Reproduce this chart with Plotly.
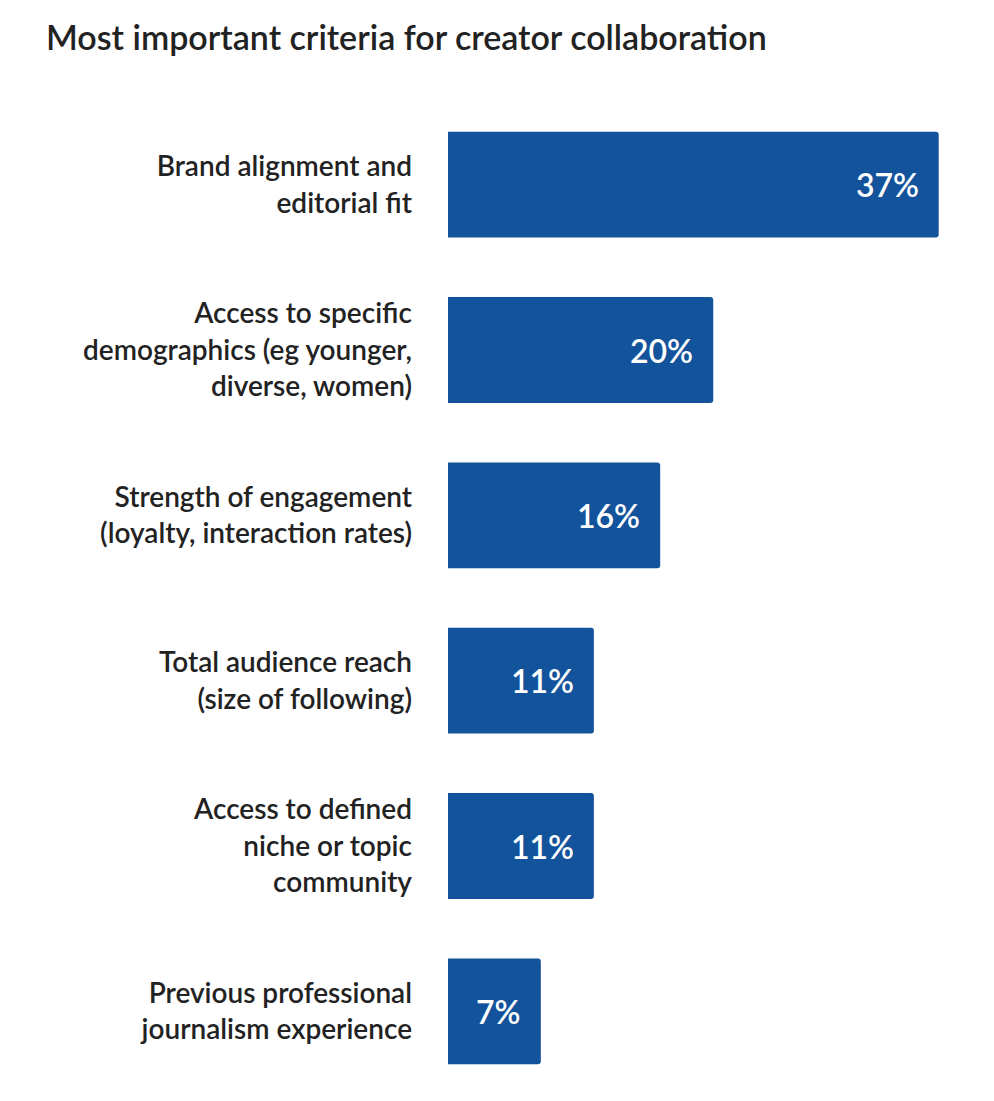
import plotly.graph_objects as go

categories = [
    "Brand alignment and<br>editorial fit",
    "Access to specific<br>demographics (eg younger,<br>diverse, women)",
    "Strength of engagement<br>(loyalty, interaction rates)",
    "Total audience reach<br>(size of following)",
    "Access to defined<br>niche or topic<br>community",
    "Previous professional<br>journalism experience",
]
values = [37, 20, 16, 11, 11, 7]
labels = ["37%", "20%", "16%", "11%", "11%", "7%"]

BAR = "#13539b"
FONT = "Lato, 'Open Sans', sans-serif"

fig = go.Figure()
fig.add_trace(go.Bar(
    x=values,
    y=categories,
    orientation="h",
    marker=dict(color=BAR, line=dict(width=0)),
    hoverinfo="skip",
))

# value labels near the bar end
for v, c, t in zip(values, categories, labels):
    fig.add_annotation(x=v, y=c, text=t, showarrow=False,
                       xanchor="right", xshift=-18,
                       font=dict(family=FONT, size=32, weight=600, color="white"))

# page body adds an 8px offset, so margins are trimmed to match
fig.update_layout(
    width=986, height=1093,
    margin=dict(l=440, r=50, t=94, b=7),
    paper_bgcolor="white", plot_bgcolor="white",
    bargap=0.36,
    barcornerradius=3,
    showlegend=False,
    title=dict(text="Most important criteria for creator collaboration",
               x=38 / 986, xref="container", xanchor="left",
               y=1 - 30 / 1093, yref="container", yanchor="middle",
               font=dict(family=FONT, size=34, weight=600, color="#222222")),
    xaxis=dict(range=[0, 37.4], visible=False, fixedrange=True),
    yaxis=dict(autorange="reversed", showgrid=False, zeroline=False,
               showline=False, ticks="", ticklabelstandoff=35,
               tickfont=dict(family=FONT, size=28, weight=600, color="#222222")),
)

fig.write_html("out.html")
